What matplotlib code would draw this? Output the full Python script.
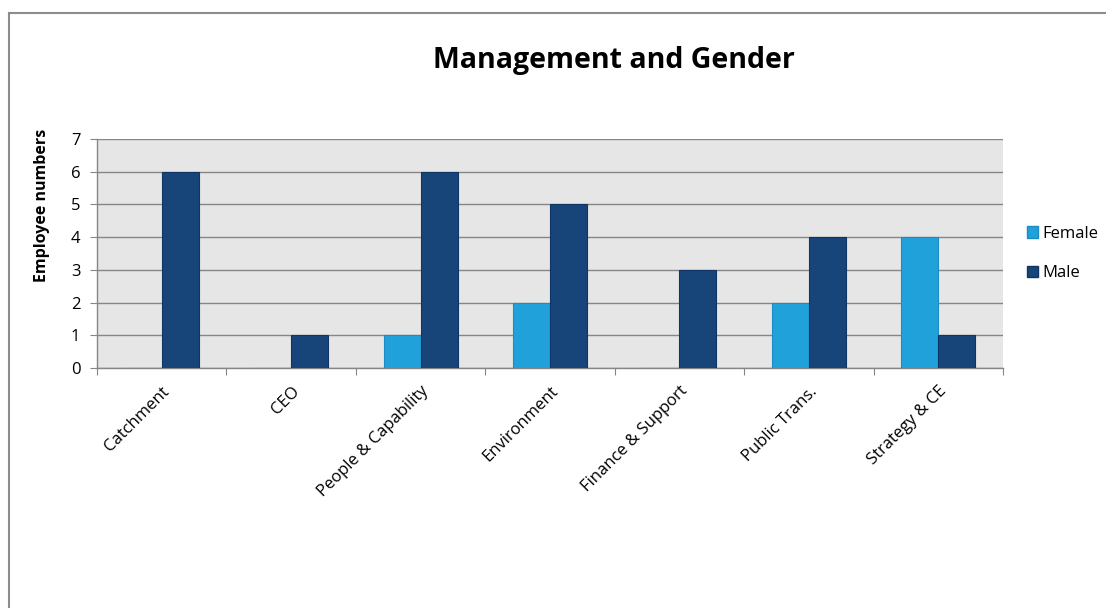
import numpy as np
import matplotlib.pyplot as plt
from matplotlib.patches import Patch
from matplotlib.lines import Line2D

plt.rcParams['font.family'] = ['Open Sans', 'DejaVu Sans']

birimler = ['Catchment', 'CEO', 'People & Capability', 'Environment',
            'Finance & Support', 'Public Trans.', 'Strategy & CE']
kadin = [0, 0, 1, 2, 0, 2, 4]
erkek = [6, 1, 6, 5, 3, 4, 1]

kadin_renk = '#21a1da'
erkek_renk = '#17457a'
izgara_renk = '#868686'

fig = plt.figure(figsize=(11.06, 6.08), dpi=100)
ax = fig.add_axes([0.0877, 0.3947, 0.8192, 0.3767])

x = np.arange(len(birimler))
w = 1 / 3.5
ax.bar(x - w / 2, kadin, w, color=kadin_renk, edgecolor='#1c8cc2', linewidth=0.8, zorder=3)
ax.bar(x + w / 2, erkek, w, color=erkek_renk, edgecolor='#0f3564', linewidth=0.8, zorder=3)

ax.set_facecolor('#e6e6e6')
ax.set_xlim(-0.5, len(birimler) - 0.5)
ax.set_ylim(0, 7)
ax.set_yticks(range(8))
ax.yaxis.grid(True, color=izgara_renk, linewidth=1, zorder=1)
ax.set_axisbelow(True)

# kategori sınırlarına kısa çentikler, etiketler ortada
ax.set_xticks(np.arange(-0.5, len(birimler)), minor=False)
ax.set_xticklabels([])
ax.set_xticks(x, minor=True)
ax.set_xticklabels(birimler, minor=True, rotation=45, ha='right',
                   rotation_mode='anchor', fontsize=12)
ax.tick_params(axis='x', which='minor', length=0, pad=11)
ax.tick_params(axis='x', which='major', length=5, color=izgara_renk)
ax.tick_params(axis='y', length=5, color=izgara_renk, labelsize=12, pad=7)

for s in ['top', 'right']:
    ax.spines[s].set_visible(False)
for s in ['left', 'bottom']:
    ax.spines[s].set_color(izgara_renk)
    ax.spines[s].set_linewidth(1)

fig.text(0.038, 0.663, 'Employee numbers', rotation=90, ha='center', va='center',
         fontsize=11.5, fontweight='bold')
fig.text(0.555, 0.901, 'Management and Gender', ha='center', va='center',
         fontsize=20.5, fontweight='bold')

tutamaclar = [Patch(facecolor=kadin_renk, edgecolor='#1c8cc2', label='Female'),
              Patch(facecolor=erkek_renk, edgecolor='#0f3564', label='Male')]
fig.legend(handles=tutamaclar, loc='center left', bbox_to_anchor=(0.9225, 0.583),
           frameon=False, fontsize=12, handlelength=0.65, handleheight=0.65,
           handletextpad=0.3, labelspacing=1.4, borderaxespad=0)

# grafik çerçevesi (üst ve sol kenar)
fig.add_artist(Line2D([0.0081, 0.0081], [0, 0.9786], color='#8c8c8c', linewidth=1.5))
fig.add_artist(Line2D([0.0081, 1.0], [0.9786, 0.9786], color='#8c8c8c', linewidth=1.5))

plt.savefig('out.png', dpi=100)
